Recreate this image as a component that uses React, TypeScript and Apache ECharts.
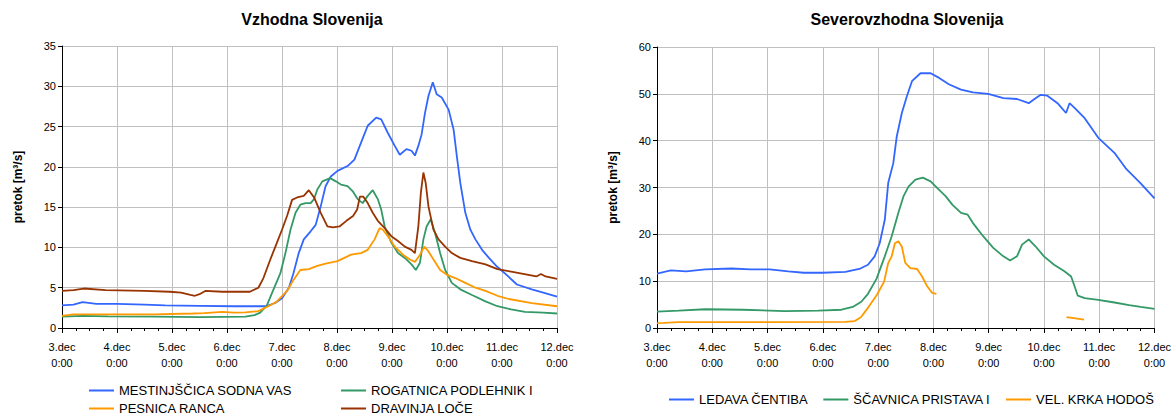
import React, { useEffect, useRef } from "react";
import * as echarts from "echarts";

const FONT = "'Liberation Sans', Arial, sans-serif";

// hours since 3.dec 0:00
const dayTicks = [3, 4, 5, 6, 7, 8, 9, 10, 11, 12];

const mestT = [0, 5, 9, 15, 24, 36, 45, 60, 75, 89, 93, 96, 99, 101, 103.3, 105.5, 108.5, 110.7, 112.9, 115, 117.3, 120.2, 124.6, 127.6, 130.5, 133.4, 137.1, 139.3, 142.2, 145.2, 147.4, 150.3, 152.5, 154, 155.5, 156.9, 158.4, 159.9, 161.8, 163.5, 165.7, 168.7, 170.9, 172.3, 173.8, 176, 178.2, 180.4, 183.3, 186.3, 189.9, 194, 198.5, 205, 210, 216];
const mestV = [2.8, 2.9, 3.2, 3.0, 3.0, 2.9, 2.8, 2.75, 2.7, 2.7, 3.1, 3.7, 5.0, 6.8, 9.3, 11, 12, 12.8, 15.1, 17.6, 18.8, 19.5, 20.1, 20.9, 23, 25.1, 26.1, 25.9, 24.2, 22.6, 21.5, 22.2, 22, 21.4, 22.6, 24, 26.7, 28.8, 30.5, 29, 28.6, 27.1, 24.6, 21.3, 18, 14.3, 12.2, 11, 9.7, 8.7, 7.6, 6.6, 5.4, 4.8, 4.4, 3.9];

const rogT = [0, 9, 20, 40, 60, 80, 84, 86.5, 89.4, 92.3, 95.3, 97.5, 99.7, 101.9, 104, 106.3, 108.5, 110, 111.4, 113.6, 117, 119.5, 121.7, 124.6, 126.8, 129, 131.2, 133.4, 135.6, 137.8, 139.3, 140.8, 143.7, 146.6, 149.6, 152.5, 154.4, 156.2, 157.7, 159.1, 160.9, 162.8, 165, 167.2, 170.1, 173.8, 178.9, 184.8, 190, 196, 202, 210, 216];
const rogV = [1.4, 1.5, 1.45, 1.4, 1.35, 1.4, 1.6, 1.9, 2.8, 4.8, 6.8, 9.3, 12.2, 14.3, 15.3, 15.5, 15.5, 16, 17.2, 18.2, 18.6, 18.2, 17.8, 17.6, 17, 16, 15.5, 16.4, 17.1, 16, 14.7, 12.6, 10.6, 9.3, 8.7, 7.9, 7.2, 8.1, 11, 12.6, 13.5, 11.8, 9.3, 7.2, 5.6, 4.8, 4.1, 3.3, 2.7, 2.3, 2.0, 1.9, 1.8];

const pesT = [0, 5, 20, 40, 57, 62, 70, 75, 80, 85.7, 87.9, 90.7, 93.8, 98.2, 101.1, 104, 107.7, 111.4, 115, 120.2, 123.2, 126.1, 130.5, 133.4, 136.4, 138.6, 140, 142.2, 145.2, 148.8, 151.8, 154, 156.2, 158.1, 159.9, 162.1, 165, 168, 171.6, 176, 180.4, 184.8, 190, 195, 205, 216];
const pesV = [1.5, 1.7, 1.7, 1.7, 1.8, 1.85, 2.0, 1.9, 1.95, 2.1, 2.4, 2.8, 3.3, 4.6, 6.0, 7.2, 7.3, 7.7, 8.0, 8.3, 8.7, 9.1, 9.3, 9.7, 11, 12.4, 12.2, 11.4, 10.1, 9.1, 8.5, 8.2, 9.1, 10.1, 9.5, 8.5, 7.2, 6.6, 6.2, 5.6, 5.0, 4.6, 4.0, 3.6, 3.1, 2.7];

const dravT = [0, 5, 9.5, 19, 36, 47, 52, 56, 58, 60, 62.5, 70, 82, 85.7, 87.9, 90.9, 93.8, 96, 98.2, 100.4, 102.6, 105.5, 107.7, 110, 112.9, 115.8, 118.2, 121.1, 124.1, 127, 128.8, 130, 131.5, 133.4, 135.6, 137.8, 140.8, 143.7, 146.6, 149.6, 152.5, 154, 155.5, 156.6, 157.7, 158.7, 159.9, 162.1, 164.3, 167.2, 170.1, 173.8, 178.9, 184.8, 190, 196, 201.8, 207, 209, 211, 216];
const dravV = [4.6, 4.7, 4.9, 4.7, 4.6, 4.5, 4.4, 4.1, 4.0, 4.2, 4.6, 4.5, 4.5, 5.0, 6.2, 8.5, 10.6, 12.2, 13.9, 15.9, 16.2, 16.4, 17.1, 16.2, 14.3, 12.6, 12.5, 12.6, 13.3, 13.9, 14.7, 16.3, 16.3, 15.5, 14.3, 13.3, 12.4, 11.4, 10.8, 10.1, 9.7, 9.3, 12.6, 16.8, 19.3, 18, 15.1, 12.2, 11, 10.1, 9.3, 8.7, 8.3, 7.9, 7.3, 7.0, 6.7, 6.4, 6.7, 6.4, 6.1];

const ledT = [0, 6, 12.7, 20.9, 32.4, 40.6, 48.9, 57, 63.7, 71.9, 81.8, 88.3, 91.6, 94.5, 96.7, 98.9, 100.4, 102.6, 104.1, 106.3, 108.5, 110.7, 114.4, 118.8, 122.5, 126.9, 132, 137.2, 143.8, 150.4, 156.3, 161.4, 163.6, 166.6, 169.5, 173.9, 177.6, 179.1, 181.3, 185.7, 191.6, 198.6, 203.5, 210, 216];
const ledV = [11.6, 12.3, 12.1, 12.5, 12.7, 12.5, 12.5, 12.1, 11.8, 11.8, 12.0, 12.7, 13.5, 15.3, 18.1, 23.1, 31, 35.2, 40.9, 45.9, 49.5, 52.7, 54.4, 54.4, 53.4, 52, 50.9, 50.3, 50, 49.1, 48.9, 48, 48.8, 49.8, 49.6, 48, 45.9, 48, 47, 44.8, 40.6, 37.4, 34.1, 30.9, 27.7];

const scaT = [0, 9.4, 20.9, 37.3, 55.4, 70, 80.1, 85, 88.7, 91.6, 95.3, 98.9, 101.9, 104.8, 107, 109.2, 112.2, 115.4, 118.8, 122.5, 125.4, 128.3, 132, 134.9, 137.2, 141.6, 146, 150.4, 153.3, 156.3, 158.5, 161.4, 164.4, 168, 172.4, 176.9, 179.8, 181.3, 182.7, 185.7, 191.6, 198, 205, 210, 216];
const scaV = [3.5, 3.7, 4.0, 3.9, 3.6, 3.7, 3.9, 4.5, 5.6, 7.3, 10.5, 15.3, 19.6, 24.6, 28.1, 30.2, 31.7, 32.1, 31.3, 29.5, 28.1, 26.3, 24.6, 24.2, 22.4, 19.6, 17.1, 15.3, 14.4, 15.3, 17.8, 18.9, 17.4, 15.3, 13.5, 12.1, 11, 8.9, 6.9, 6.4, 6.0, 5.5, 4.9, 4.5, 4.1];

const krkT = [0, 3, 9.4, 40, 81.8, 85.7, 88.5, 91.6, 95.5, 98.6, 100.4, 101.9, 103.3, 104.8, 106.3, 107.8, 110, 112.9, 115.1, 117.3, 119.5, 121.3, 150, 177.8, 181, 185.4];
const krkV = [1.05, 1.1, 1.25, 1.25, 1.3, 1.45, 2.3, 4.3, 7.1, 9.9, 13.9, 15.3, 18.1, 18.5, 17.4, 13.9, 12.8, 12.6, 11, 8.9, 7.5, 7.3, null, 2.3, 2.1, 1.8];

const pair = (T: number[], V: (number | null)[]) => T.map((t, i) => [t, V[i]]);

const BLUE = "#3366FF";
const GREEN = "#339966";
const ORANGE = "#FF9900";
const BROWN = "#993300";

function xAxis(gridIndex: number) {
  return {
    type: "value",
    gridIndex,
    min: 0,
    max: 216,
    interval: 24,
    axisLine: { show: true, lineStyle: { color: "#000", width: 1 } },
    axisTick: { show: true, length: 5, lineStyle: { color: "#000" } },
    minorTick: { show: true, splitNumber: 4, length: 3, lineStyle: { color: "#000" } },
    splitLine: { show: true, lineStyle: { color: "#c0c0c0", width: 1 } },
    axisLabel: {
      color: "#000",
      fontSize: 11,
      fontFamily: FONT,
      lineHeight: 16,
      margin: 11,
      formatter: (v: number) => `${dayTicks[Math.round(v / 24)]}.dec\n0:00`,
    },
  };
}

function yAxis(gridIndex: number, max: number, interval: number) {
  return {
    type: "value",
    gridIndex,
    min: 0,
    max,
    interval,
    name: "pretok [m³/s]",
    nameLocation: "middle",
    nameGap: 38,
    nameRotate: 90,
    nameTextStyle: { fontWeight: "bold", fontSize: 12, fontFamily: FONT, color: "#000" },
    axisLine: { show: true, lineStyle: { color: "#000", width: 1 } },
    axisTick: { show: true, length: 4, lineStyle: { color: "#000" } },
    splitLine: { show: true, lineStyle: { color: "#c0c0c0", width: 1 } },
    axisLabel: { color: "#000", fontSize: 11, fontFamily: FONT, margin: 6 },
  };
}

function line(name: string, color: string, data: any[], idx: number) {
  return {
    type: "line",
    name,
    xAxisIndex: idx,
    yAxisIndex: idx,
    data,
    symbol: "none",
    showSymbol: false,
    connectNulls: false,
    color,
    lineStyle: { color, width: 1.8 },
  };
}

const legendText = { fontSize: 13, fontFamily: FONT, color: "#000" };

function legend(left: number, top: number, data: string[], itemGap = 14) {
  return {
    left,
    top,
    padding: 0,
    orient: "horizontal",
    itemGap,
    itemWidth: 25,
    itemHeight: 14,
    itemStyle: { opacity: 0 },
    lineStyle: { width: 2 },
    data,
    textStyle: legendText,
  };
}

export default function App() {
  const ref = useRef<HTMLDivElement>(null);
  useEffect(() => {
    if (!ref.current) return;
    const chart = echarts.init(ref.current, null, { renderer: "svg" });
    chart.setOption({
      animation: false,
      textStyle: { fontFamily: FONT },
      graphic: [
        {
          type: "text",
          x: 312,
          y: 19,
          style: { text: "Vzhodna Slovenija", font: `bold 16px ${FONT}`, fill: "#000", textAlign: "center", textVerticalAlign: "middle" },
        },
        {
          type: "text",
          x: 907,
          y: 19,
          style: { text: "Severovzhodna Slovenija", font: `bold 16px ${FONT}`, fill: "#000", textAlign: "center", textVerticalAlign: "middle" },
        },
      ],
      grid: [
        { left: 62, top: 46, width: 495, height: 282 },
        { left: 657, top: 47, width: 500, height: 281 },
      ],
      xAxis: [xAxis(0), xAxis(1)],
      yAxis: [yAxis(0, 35, 5), yAxis(1, 60, 10)],
      legend: [
        legend(88, 384, ["MESTINJŠČICA SODNA VAS"]),
        legend(88, 402, ["PESNICA RANCA"]),
        legend(340, 384, ["ROGATNICA PODLEHNIK I"]),
        legend(340, 402, ["DRAVINJA LOČE"]),
        legend(668, 393, ["LEDAVA ČENTIBA", "ŠČAVNICA PRISTAVA I", "VEL. KRKA HODOŠ"], 14),
      ],
      series: [
        line("MESTINJŠČICA SODNA VAS", BLUE, pair(mestT, mestV), 0),
        line("ROGATNICA PODLEHNIK I", GREEN, pair(rogT, rogV), 0),
        line("PESNICA RANCA", ORANGE, pair(pesT, pesV), 0),
        line("DRAVINJA LOČE", BROWN, pair(dravT, dravV), 0),
        line("LEDAVA ČENTIBA", BLUE, pair(ledT, ledV), 1),
        line("ŠČAVNICA PRISTAVA I", GREEN, pair(scaT, scaV), 1),
        line("VEL. KRKA HODOŠ", ORANGE, pair(krkT, krkV), 1),
      ],
    });
    return () => chart.dispose();
  }, []);
  return <div ref={ref} style={{ position: "absolute", left: 0, top: 0, width: 1174, height: 416 }} />;
}
